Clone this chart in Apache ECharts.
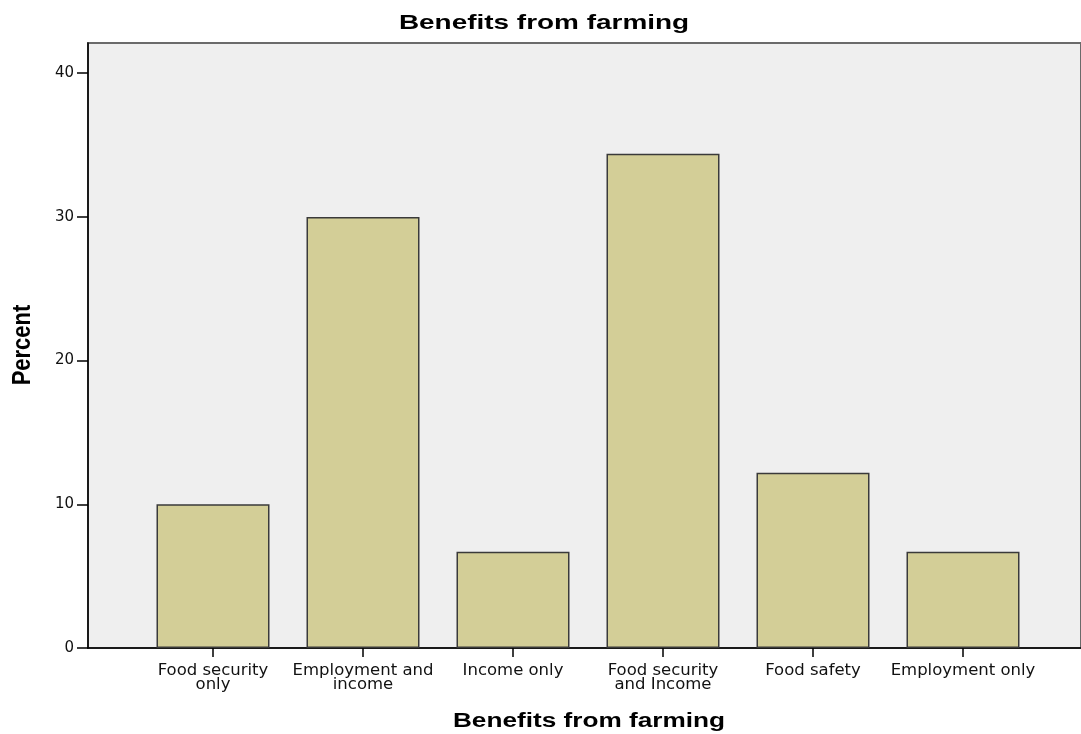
<!DOCTYPE html>
<html><head><meta charset="utf-8">
<script src="https://cdn.jsdelivr.net/npm/echarts@6/dist/echarts.min.js"></script>
<style>html,body{margin:0;padding:0;background:#fff}#c{width:1081px;height:734px}</style>
</head><body><div id="c"></div>
<script>
var categories = ['Food security\nonly','Employment and\nincome','Income only','Food security\nand Income','Food safety','Employment only'];
var percentValues = [10.0, 30.0, 6.7, 34.4, 12.2, 6.7];
var yTicks = [0, 10, 20, 30, 40];
var chartTitle = 'Benefits from farming';
var xTitle = 'Benefits from farming';
var yTitle = 'Percent';

var chart = echarts.init(document.getElementById('c'));
var boldFont = 'Liberation Sans, Arial, sans-serif';
var labelFont = 'DejaVu Sans, sans-serif';
var yMin = 0, yMax = 42.1;
chart.setOption({
  animation: false,
  graphic: [
    {type: 'text', x: 544, y: 23, scaleX: 1.33, style: {text: chartTitle, fontFamily: boldFont, fontWeight: 'bold', fontSize: 21, fill: '#000', textAlign: 'center', textVerticalAlign: 'middle'}},
    {type: 'text', x: 589, y: 721, scaleX: 1.31, style: {text: xTitle, fontFamily: boldFont, fontWeight: 'bold', fontSize: 20, fill: '#000', textAlign: 'center', textVerticalAlign: 'middle'}},
    {type: 'text', x: 23, y: 345, rotation: Math.PI/2, scaleY: 1.2, style: {text: yTitle, fontFamily: boldFont, fontWeight: 'bold', fontSize: 22, fill: '#000', textAlign: 'center', textVerticalAlign: 'middle'}}
  ],
  grid: [
    {left: 88, right: -3, top: 43, bottom: 86, show: true, backgroundColor: '#efefef', borderColor: '#6a6a6a', borderWidth: 2},
    {left: 138, width: 900, top: 43, bottom: 86}
  ],
  xAxis: [
    {gridIndex: 0, type: 'category', data: ['a'], axisLine: {show: true, lineStyle: {color: '#000', width: 1.5}}, axisTick: {show: false}, axisLabel: {show: false}, splitLine: {show: false}},
    {gridIndex: 1, type: 'category', data: categories, axisLine: {show: false},
      axisTick: {show: true, alignWithLabel: true, length: 9, inside: false, lineStyle: {color: '#000', width: 1.5}},
      axisLabel: {interval: 0, fontFamily: labelFont, fontSize: 16.5, color: '#111', lineHeight: 13.5, margin: 16}}
  ],
  yAxis: [
    {gridIndex: 0, type: 'value', min: yMin, max: yMax, interval: 10,
      axisLine: {show: true, lineStyle: {color: '#000', width: 1.5}},
      axisTick: {show: true, length: 11, lineStyle: {color: '#000', width: 1.5}, customValues: yTicks},
      axisLabel: {fontFamily: labelFont, fontSize: 15, color: '#111', margin: 14, customValues: yTicks},
      splitLine: {show: false}},
    {gridIndex: 1, type: 'value', min: yMin, max: yMax, show: false, splitLine: {show: false}}
  ],
  series: [{
    type: 'bar', xAxisIndex: 1, yAxisIndex: 1, data: percentValues, barWidth: 113,
    itemStyle: {color: '#d3ce97', borderColor: '#3a3a3a', borderWidth: 1.5}
  }]
});
</script></body></html>
